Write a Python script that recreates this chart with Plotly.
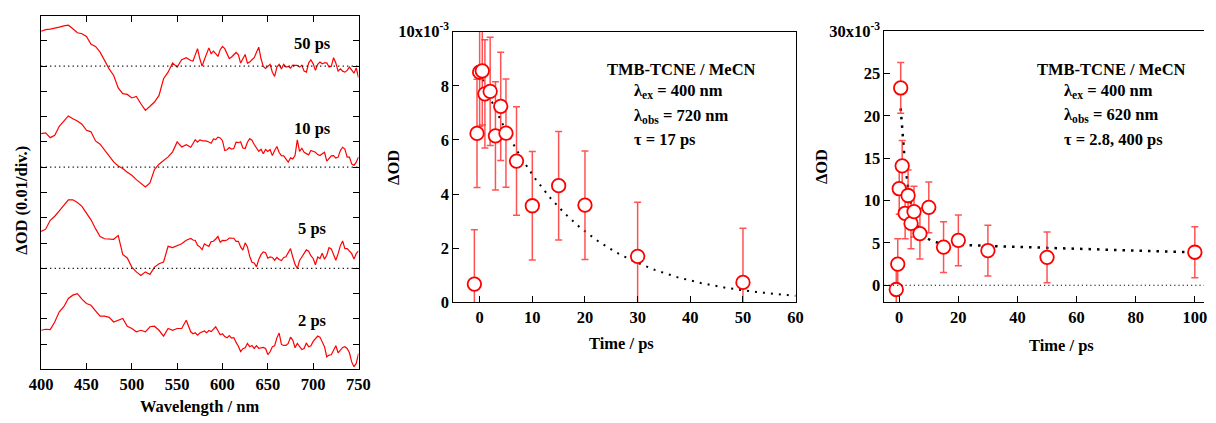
import numpy as np
import plotly.graph_objects as go

# ---------------- data ----------------
wavelength_nm = [400, 405, 410, 415, 420, 425, 430, 435, 440, 445,
                 450, 455, 460, 465, 470, 475, 480, 485, 490, 495,
                 500, 505, 510, 515, 520, 525, 530, 535, 540, 545,
                 550, 555, 560,
                 565, 567.5, 570, 572.5, 575, 577.5, 580, 582.5, 585, 587.5,
                 590, 592.5, 595, 597.5, 600, 602.5, 605, 607.5, 610, 612.5,
                 615, 617.5, 620, 622.5, 625, 627.5, 630, 632.5, 635, 637.5,
                 640, 642.5, 645, 647.5, 650, 652.5, 655, 657.5, 660, 662.5,
                 665, 667.5, 670, 672.5, 675, 677.5, 680, 682.5, 685, 687.5,
                 690, 692.5, 695, 697.5, 700, 702.5, 705, 707.5, 710, 712.5,
                 715, 717.5, 720, 722.5, 725, 727.5, 730, 732.5, 735, 737.5,
                 740, 742.5, 745, 747.5, 750]

# transient absorption spectra, mOD
spec_2ps = [15.5, 15.9, 15.8, 18.8, 22.8, 24.8, 28.1, 29.4, 30.0, 27.8,
            26.1, 25.4, 23.2, 21.1, 21.1, 20.6, 18.8, 19.5, 20.2, 17.1,
            16.2, 14.9, 15.5, 14.9, 16.9, 17.1, 15.5, 13.2, 16.2, 15.5,
            16.2, 16.2, 19.5,
            14.9, 14.1, 14.5, 13.6, 14.4, 14.8, 15.2, 14.5, 15.4, 15.0,
            15.9, 16.9, 15.3, 13.7, 14.1, 13.0, 12.5, 13.4, 12.4, 12.6,
            10.7, 9.2, 7.1, 8.2, 8.6, 10.3, 9.0, 9.5, 8.3, 9.4,
            8.4, 8.7, 8.7, 8.3, 5.9, 7.0, 9.0, 9.4, 12.5, 14.4,
            9.9, 9.5, 9.5, 10.3, 12.8, 11.6, 8.6, 10.3, 9.1, 7.9,
            8.3, 10.5, 9.0, 9.4, 11.1, 12.3, 13.2, 12.8, 10.5, 9.0,
            5.0, 5.7, 5.8, 7.8, 9.4, 6.6, 7.6, 8.7, 9.0, 8.3,
            6.6, 3.0, 1.1, 2.4, 6.3]
spec_5ps = [14.6, 15.5, 19.0, 20.6, 22.7, 24.9, 27.1, 27.1, 26.0, 24.5,
            21.6, 19.2, 15.7, 12.6, 11.7, 11.6, 11.5, 13.0, 5.5, 4.1,
            0.5, -1.4, -2.8, -1.4, -2.4, 0.5, 1.8, 2.5, 8.7, 8.2,
            9.1, 9.7, 11.1,
            11.8, 11.2, 11.0, 9.1, 8.5, 7.4, 9.7, 9.1, 8.7, 10.6,
            10.7, 11.6, 12.6, 10.3, 11.1, 11.0, 11.2, 12.0, 12.0, 11.9,
            10.7, 10.7, 8.5, 7.2, 10.1, 8.5, 4.8, 2.4, 2.1, 0.6,
            3.5, 5.4, 6.5, 6.2, 4.0, 4.5, 4.3, 3.2, 4.3, 3.5,
            3.1, 4.3, 4.6, 6.2, 7.8, 4.5, 1.6, -0.1, 3.1, 4.5,
            6.0, 7.3, 6.8, 5.0, 3.9, 1.4, 4.5, 3.9, 6.0, 3.6,
            5.2, 8.2, 7.7, 5.6, 3.2, 5.8, 9.0, 10.8, 7.8, 7.8,
            6.9, 5.8, 3.7, 5.8, 6.9]
spec_10ps = [13.3, 13.6, 11.7, 12.6, 16.2, 18.3, 20.3, 19.2, 18.3, 17.0,
             14.6, 14.0, 10.4, 9.1, 6.7, 4.3, 2.1, 0.5, -0.5, -2.0,
             -3.2, -4.9, -6.2, -7.8, -6.2, -0.9, 1.2, 2.8, 4.1, 6.1,
             10.0, 8.0, 8.9,
             7.9, 9.6, 10.9, 9.9, 10.8, 10.5, 10.5, 10.3, 10.0, 9.5,
             11.2, 10.9, 11.9, 11.6, 10.5, 6.6, 6.9, 7.8, 7.2, 7.4,
             9.9, 9.7, 10.1, 7.6, 7.4, 9.9, 11.3, 10.7, 9.0, 7.5,
             6.3, 7.1, 5.3, 7.0, 6.2, 7.0, 4.6, 6.6, 8.2, 5.8,
             4.6, 4.5, 3.2, 2.0, 3.7, 3.3, 4.6, 10.8, 6.3, 7.5,
             5.9, 5.3, 4.9, 6.6, 6.2, 5.9, 5.0, 4.6, 5.3, 5.9,
             2.4, 3.4, 4.5, 4.6, 3.6, 4.0, 6.6, 7.9, 7.2, 4.0,
             4.0, 1.3, 0.7, 2.0, 4.0]
spec_50ps = [13.8, 14.4, 14.6, 14.9, 15.4, 15.9, 16.2, 14.8, 13.2, 12.8,
             11.7, 8.6, 7.8, 5.5, 2.2, -1.1, -3.7, -8.6, -10.9, -11.2,
             -12.6, -12.0, -14.9, -17.5, -15.9, -14.2, -11.6, -5.0, -2.4, 1.2,
             -0.4, 2.5, 3.3,
             2.2, 2.0, 4.9, 6.9, 2.9, 0.0, 2.5, 5.1, 7.2, 4.9,
             5.9, 4.9, 3.8, 6.5, 7.8, 6.9, 5.1, 3.0, 3.6, 4.6,
             5.4, 4.5, 1.2, 2.9, 4.6, 1.2, 1.6, 2.5, 3.3, 5.5,
             7.5, 2.9, -0.1, -0.9, -0.1, 0.7, -2.4, -4.1, -0.4, 0.7,
             -1.1, 0.7, -0.4, -0.1, -0.8, 0.4, 0.3, 0.3, -0.4, 0.3,
             -2.0, -2.4, 1.2, 2.5, 0.9, -1.7, 0.7, 1.6, 0.9, 1.3,
             1.3, -0.4, -0.1, 3.3, 1.2, -2.0, -1.1, -2.0, -2.4, -1.7,
             -0.4, -1.4, -2.8, -0.7, -4.6]
spectra_labels = ["2 ps", "5 ps", "10 ps", "50 ps"]
spectra = [spec_2ps, spec_5ps, spec_10ps, spec_50ps]
spectra_offsets = [0, 40, 80, 120]          # mOD; 0.01 OD per division

# kinetics at 720 nm (mOD)
t_720 = [-1, -0.5, 0, 0.5, 1, 2, 3, 4, 5, 7, 10, 15, 20, 30, 50]
od_720 = [0.68, 6.24, 8.50, 8.55, 7.70, 7.79, 6.15, 7.24, 6.25, 5.22, 3.57, 4.31, 3.59, 1.70, 0.74]
err_720 = [2.0, 2.0, 2.0, 2.0, 2.0, 2.0, 2.0, 2.0, 2.0, 2.0, 2.0, 2.0, 2.0, 2.0, 2.0]
fit_720_amp = 8.5
fit_720_tau = 17.0

# kinetics at 620 nm (mOD)
t_620 = [-1, -0.5, 0, 0.5, 1, 2, 3, 4, 5, 7, 10, 15, 20, 30, 50, 100]
od_620 = [-0.5, 2.5, 11.4, 23.3, 14.1, 8.5, 10.6, 7.3, 8.7, 6.1, 9.2, 4.5, 5.3, 4.1, 3.3, 3.9]
err_620 = [3.0, 3.0, 3.0, 3.0, 3.0, 3.0, 3.0, 3.0, 3.0, 3.0, 3.0, 3.0, 3.0, 3.0, 3.0, 3.0]
fit_620_amps = [19.0, 5.0]
fit_620_taus = [2.8, 400.0]

# ---------------- figure ----------------
W, H = 1216, 423
FONT = "Liberation Serif, Times New Roman, Times, serif"
RED = "#ff0000"
FS = 16.5

# the photographed page shows up with a small frame around it; positions below are
# given in picture pixels and converted to page fractions
SX, SY, PAD = 1216 / 1238, 423 / 445, 11


def fx(v):
    return min(1.0, max(0.0, (v / SX - PAD) / W))


def fy(v):
    return min(1.0, max(0.0, 1 - (v / SY - PAD) / H))


fig = go.Figure()

# left panel: spectra
for lab, spec, off in zip(spectra_labels, spectra, spectra_offsets):
    fig.add_trace(go.Scatter(
        x=wavelength_nm, y=[v + off for v in spec], mode="lines",
        line=dict(color=RED, width=1.2), name=lab, showlegend=False,
        xaxis="x", yaxis="y"))

# middle panel
tf1 = np.linspace(0, 60, 241)
fig.add_trace(go.Scatter(
    x=tf1, y=fit_720_amp * np.exp(-tf1 / fit_720_tau), mode="lines",
    line=dict(color="black", width=2, dash="2px,6px"), showlegend=False,
    xaxis="x2", yaxis="y2"))
fig.add_trace(go.Scatter(
    x=t_720, y=od_720, mode="markers",
    error_y=dict(type="data", array=err_720, color="rgba(255,40,40,0.8)",
                 thickness=1.5, width=3.5),
    marker=dict(symbol="circle", size=13.5, color="white",
                line=dict(color=RED, width=1.8)),
    showlegend=False, xaxis="x2", yaxis="y2"))

# right panel
tf2 = np.linspace(0.5, 104, 800)
fit2 = (fit_620_amps[0] * np.exp(-tf2 / fit_620_taus[0])
        + fit_620_amps[1] * np.exp(-tf2 / fit_620_taus[1]))
fig.add_trace(go.Scatter(
    x=tf2, y=fit2, mode="lines",
    line=dict(color="black", width=2.5, dash="2.5px,6px"), showlegend=False,
    xaxis="x3", yaxis="y3"))
fig.add_trace(go.Scatter(
    x=t_620, y=od_620, mode="markers",
    error_y=dict(type="data", array=err_620, color="rgba(255,40,40,0.8)",
                 thickness=1.5, width=3.5),
    marker=dict(symbol="circle", size=13.5, color="white",
                line=dict(color=RED, width=1.8)),
    showlegend=False, xaxis="x3", yaxis="y3"))

tickfont = dict(family=FONT, size=FS, color="black", weight="bold")
common = dict(showline=True, linecolor="black", linewidth=1, ticks="inside",
              ticklen=6, tickwidth=1, tickcolor="black", showgrid=False,
              zeroline=False, tickfont=tickfont)

fig.update_layout(
    width=W, height=H, margin=dict(l=0, r=0, t=0, b=0),
    paper_bgcolor="white", plot_bgcolor="white",
    font=dict(family=FONT, size=FS, color="black", weight="bold"),
    xaxis=dict(domain=[fx(40), fx(358)], range=[400, 750], tickvals=list(range(400, 751, 50)),
               mirror="allticks", anchor="y", **common),
    yaxis=dict(domain=[fy(369), fy(15)], range=[0, 140], tickvals=list(range(0, 141, 10)),
               showticklabels=False, mirror="allticks", anchor="x", **common),
    xaxis2=dict(domain=[fx(453), fx(796)], range=[-5, 60], tickvals=list(range(0, 61, 10)),
                mirror=True, anchor="y2", **common),
    yaxis2=dict(domain=[fy(302), fy(31)], range=[0, 10], tickvals=[0, 2, 4, 6, 8, 10],
                ticktext=["0", "2", "4", "6", "8", "10x10<sup>-3</sup>"],
                mirror=True, anchor="x2", **common),
    xaxis3=dict(domain=[fx(885), 1.0], range=[-5, 103.1], tickvals=list(range(0, 101, 20)),
                mirror=True, anchor="y3", **common),
    yaxis3=dict(domain=[fy(301.7), fy(30.7)], range=[-2, 30], tickvals=[0, 5, 10, 15, 20, 25, 30],
                ticktext=["0", "5", "10", "15", "20", "25", "30x10<sup>-3</sup>"],
                mirror=False, anchor="x3", **common),
)

# dotted baselines
for off in spectra_offsets[1:]:
    fig.add_shape(type="line", xref="x domain", x0=0, x1=1, yref="y", y0=off, y1=off,
                  line=dict(color="black", width=1.2, dash="1.2px,3.3px"))
fig.add_shape(type="line", xref="x3 domain", x0=0, x1=1, yref="y3", y0=0, y1=0,
              line=dict(color="black", width=1.2, dash="1.2px,3px"))

annfont = dict(family=FONT, size=FS, color="black", weight="bold")


def ann(text, x, y, xanchor="center", yanchor="middle", angle=0, xref="paper", yref="paper"):
    fig.add_annotation(text=text, x=x, y=y, xref=xref, yref=yref, xanchor=xanchor,
                       yanchor=yanchor, showarrow=False, font=annfont, textangle=angle)


# spectrum labels (data coordinates of the left panel)
label_y = [19.4, 55.8, 95.3, 128.9]
for lab, yy in zip(spectra_labels, label_y):
    ann(lab, 699, yy, xref="x", yref="y")

# axis titles
ann("Wavelength / nm", fx(199), 1 - 416 / H)
ann("ΔOD (0.01/div.)", fx(20), fy(200), angle=-90)
ann("Time / ps", fx(622), fy(343))
ann("ΔOD", fx(393), fy(167), angle=-90)
ann("Time / ps", fx(1062), fy(345))
ann("ΔOD", fx(822), fy(166), angle=-90)

# panel annotations
ann("TMB-TCNE / MeCN", fx(682), fy(69))
ann("λ<sub>ex</sub> = 400 nm", fx(632), fy(90), xanchor="left")
ann("λ<sub>obs</sub> = 720 nm", fx(632), fy(115), xanchor="left")
ann("τ = 17 ps", fx(632), fy(139), xanchor="left")

ann("TMB-TCNE / MeCN", fx(1113), fy(69))
ann("λ<sub>ex</sub> = 400 nm", fx(1063), fy(90), xanchor="left")
ann("λ<sub>obs</sub> = 620 nm", fx(1063), fy(114), xanchor="left")
ann("τ = 2.8, 400 ps", fx(1063), fy(139), xanchor="left")

fig.write_html("out.html", config={"displayModeBar": False},
               post_script="document.body.style.margin='0';"
                           "document.documentElement.style.overflow='hidden';")
